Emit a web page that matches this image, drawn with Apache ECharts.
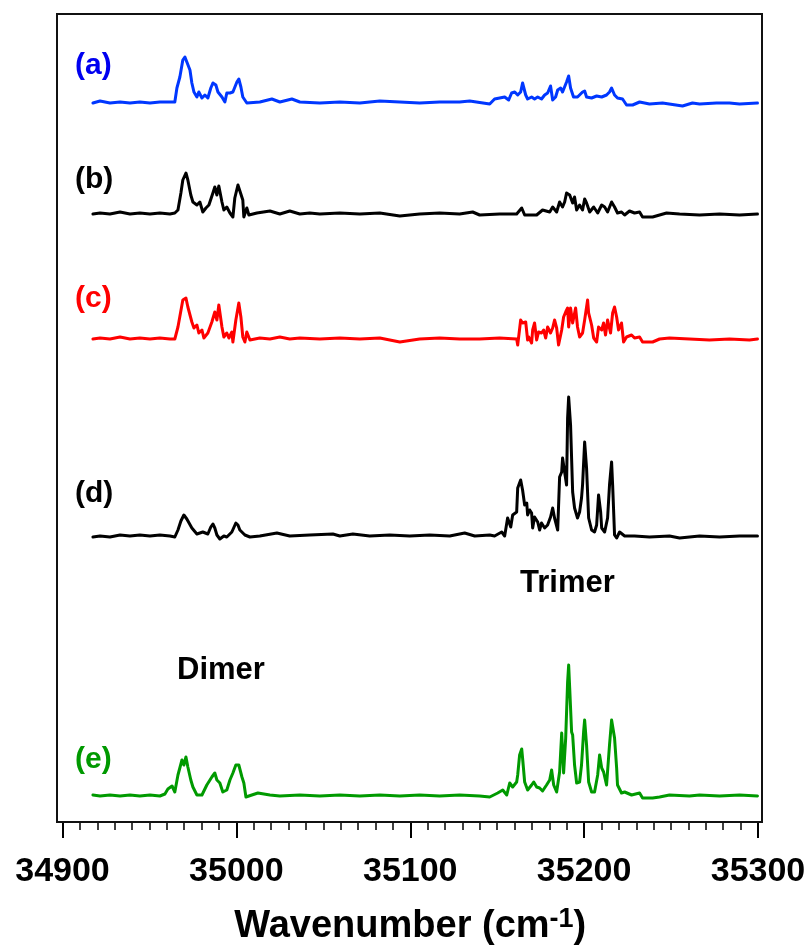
<!DOCTYPE html>
<html><head><meta charset="utf-8">
<script src="https://cdn.jsdelivr.net/npm/echarts@6/dist/echarts.min.js"></script>
<style>html,body{margin:0;padding:0;background:#fff}#c{width:808px;height:948px}</style>
</head><body><div id="c"></div>
<script>
// Wavenumber (cm-1), relative intensity above each trace's own baseline
const specA = [[34917.5,0],[34921.6,2],[34927.3,0],[34933.1,1],[34938.8,0],[34944.5,1],[34950.3,0],[34956.0,1],[34961.8,1],[34964.6,1],[34965.8,15],[34967.5,26],[34969.2,43],[34970.4,46],[34971.5,44],[34973.3,33],[34974.4,20],[34975.6,11],[34977.3,6],[34978.4,11],[34980.2,5],[34981.9,8],[34983.6,5],[34985.3,15],[34986.5,20],[34988.2,18],[34989.4,11],[34991.7,6],[34993.4,1],[34994.5,10],[34996.3,10],[34998.0,11],[35000.3,21],[35001.4,24],[35002.6,16],[35003.7,6],[35006.0,0],[35013.5,1],[35020.4,4],[35025.0,1],[35031.9,4],[35036.5,1],[35048.0,0],[35059.5,1],[35071.0,0],[35082.5,2],[35094.0,1],[35105.4,0],[35116.9,1],[35128.4,1],[35134.2,2],[35145.7,-1],[35148.5,4],[35151.4,5],[35154.3,6],[35156.6,3],[35158.3,10],[35160.1,11],[35161.8,8],[35163.5,11],[35164.6,20],[35166.4,8],[35167.5,4],[35169.8,6],[35171.5,4],[35173.3,6],[35175.5,4],[35177.3,8],[35179.0,10],[35180.7,17],[35181.9,3],[35183.6,6],[35184.8,13],[35186.5,15],[35187.6,11],[35189.9,21],[35191.1,27],[35192.2,15],[35193.9,6],[35196.2,6],[35199.1,11],[35200.3,12],[35201.4,6],[35204.3,5],[35207.2,7],[35210.1,6],[35212.9,8],[35214.6,11],[35215.8,15],[35217.5,8],[35219.2,5],[35222.1,4],[35224.4,-2],[35227.9,-2],[35231.9,1],[35237.6,-1],[35245.1,0],[35256.6,-3],[35262.3,0],[35266.4,-1],[35276.1,0],[35283.6,0],[35289.4,-1],[35299.7,0]];

const specB = [[34917.5,0],[34921.6,1],[34927.3,0],[34933.1,2],[34938.8,0],[34944.5,1],[34950.3,0],[34956.0,1],[34961.8,0],[34964.6,1],[34966.4,4],[34968.1,21],[34969.2,34],[34971.0,41],[34972.1,34],[34973.8,19],[34975.0,12],[34976.1,14],[34977.3,9],[34979.0,12],[34980.7,2],[34982.5,6],[34984.2,9],[34986.5,21],[34987.6,27],[34988.8,19],[34989.9,28],[34991.7,12],[34992.8,4],[34994.5,7],[34996.3,1],[34998.0,-3],[34999.1,16],[35000.9,29],[35002.0,31],[35003.7,14],[35004.3,-3],[35006.0,6],[35007.2,-1],[35011.8,1],[35019.3,3],[35025.0,0],[35030.7,3],[35036.5,0],[35042.2,1],[35048.0,0],[35059.5,1],[35071.0,0],[35082.5,1],[35094.0,-2],[35105.4,0],[35116.9,1],[35128.4,0],[35135.9,2],[35139.9,-1],[35151.4,0],[35161.2,0],[35164.1,6],[35165.8,-1],[35172.7,-1],[35176.1,4],[35180.2,2],[35181.9,7],[35184.2,2],[35185.9,12],[35187.6,7],[35188.8,12],[35189.9,21],[35191.7,19],[35193.4,11],[35194.5,17],[35195.7,4],[35197.4,9],[35199.1,4],[35200.3,15],[35201.4,11],[35203.2,2],[35205.5,7],[35207.8,1],[35210.1,9],[35211.8,7],[35213.5,2],[35215.8,12],[35217.5,7],[35219.2,1],[35221.5,2],[35223.3,-1],[35226.1,3],[35229.0,1],[35231.9,2],[35233.6,-3],[35239.4,-3],[35243.4,-1],[35247.4,1],[35254.9,0],[35266.4,-1],[35277.9,0],[35289.4,-1],[35299.7,0]];

const specC = [[34917.5,0],[34921.6,1],[34927.3,0],[34933.1,2],[34938.8,0],[34944.5,1],[34950.3,0],[34956.0,1],[34961.8,0],[34964.6,0],[34966.4,12],[34969.2,39],[34971.0,41],[34972.1,32],[34974.4,17],[34975.6,11],[34977.3,14],[34978.4,6],[34980.2,9],[34981.3,1],[34983.6,6],[34985.9,17],[34987.6,27],[34988.8,19],[34989.9,34],[34991.7,12],[34992.8,2],[34994.5,6],[34995.7,1],[34997.4,7],[34998.0,-3],[34999.7,19],[35001.4,36],[35002.6,22],[35003.7,2],[35004.9,-3],[35006.0,7],[35007.8,-1],[35013.5,1],[35019.3,0],[35025.0,2],[35030.7,0],[35036.5,1],[35048.0,0],[35059.5,1],[35071.0,0],[35082.5,1],[35094.0,-3],[35105.4,0],[35116.9,1],[35128.4,0],[35139.9,0],[35151.4,1],[35161.2,0],[35161.8,-6],[35163.5,19],[35164.6,16],[35166.4,17],[35167.5,-1],[35168.1,2],[35169.8,-4],[35170.4,9],[35171.5,16],[35172.7,-1],[35173.8,7],[35175.5,6],[35176.7,9],[35177.9,1],[35179.0,12],[35180.7,6],[35181.9,11],[35183.0,19],[35184.2,11],[35185.3,-6],[35187.1,9],[35188.2,22],[35189.4,27],[35190.5,31],[35191.1,12],[35192.2,31],[35193.4,16],[35195.1,31],[35196.2,12],[35197.4,2],[35199.1,6],[35200.3,19],[35202.0,39],[35202.6,26],[35204.3,14],[35205.5,1],[35207.2,-3],[35208.3,12],[35210.1,9],[35211.2,16],[35212.3,4],[35213.5,19],[35215.2,6],[35216.4,26],[35217.5,32],[35218.7,22],[35219.8,9],[35221.5,16],[35222.7,-3],[35224.4,2],[35227.3,4],[35229.0,1],[35231.9,2],[35233.6,-3],[35239.4,-3],[35243.4,0],[35249.1,1],[35260.6,0],[35272.1,-1],[35283.6,0],[35295.1,-1],[35299.7,0]];

const specD = [[34917.5,-1],[34921.6,0],[34927.3,-1],[34933.1,1],[34938.8,0],[34944.5,1],[34950.3,0],[34956.0,1],[34961.8,0],[34964.6,-1],[34966.4,6],[34968.1,15],[34969.8,21],[34971.5,17],[34974.4,8],[34977.3,2],[34980.7,4],[34983.6,2],[34985.3,9],[34986.5,12],[34987.6,8],[34988.8,1],[34990.5,-3],[34992.8,0],[34994.5,-1],[34997.4,4],[34999.7,13],[35000.9,11],[35002.0,6],[35004.9,1],[35007.8,-1],[35013.5,0],[35023.3,3],[35030.7,0],[35042.2,1],[35055.5,2],[35059.5,0],[35067.0,2],[35076.7,0],[35088.2,1],[35099.7,0],[35111.2,1],[35122.7,0],[35131.3,3],[35137.1,0],[35145.7,1],[35148.5,0],[35152.6,4],[35154.3,0],[35156.0,18],[35157.8,9],[35158.9,21],[35161.2,24],[35161.8,48],[35163.5,56],[35164.6,46],[35165.8,31],[35167.0,33],[35167.5,21],[35168.7,26],[35169.8,23],[35170.4,8],[35171.5,19],[35173.3,14],[35174.4,6],[35175.5,13],[35177.3,8],[35179.0,11],[35180.7,19],[35181.9,28],[35183.0,18],[35184.8,6],[35185.9,59],[35187.1,64],[35187.6,78],[35188.8,64],[35189.9,51],[35190.5,118],[35191.1,139],[35192.2,111],[35193.4,44],[35194.5,28],[35196.2,18],[35197.4,24],[35198.5,38],[35199.1,51],[35200.3,94],[35201.4,68],[35202.6,18],[35204.3,6],[35206.0,4],[35207.2,11],[35208.3,41],[35209.5,24],[35210.1,8],[35211.8,4],[35213.5,18],[35214.6,51],[35215.8,74],[35216.4,51],[35217.5,1],[35218.7,-2],[35220.4,4],[35223.3,0],[35229.0,0],[35237.6,-1],[35249.1,0],[35254.9,-2],[35266.4,0],[35277.9,-1],[35289.4,0],[35299.7,0]];

const specE = [[34917.5,1],[34921.6,0],[34927.3,1],[34933.1,0],[34938.8,1],[34944.5,0],[34950.3,1],[34956.0,0],[34958.9,2],[34960.6,7],[34963.0,10],[34964.6,4],[34966.4,21],[34968.7,36],[34969.8,31],[34971.0,39],[34972.1,29],[34973.8,16],[34975.0,9],[34977.3,1],[34980.2,1],[34983.0,11],[34985.9,19],[34987.6,23],[34988.8,16],[34990.5,13],[34992.2,4],[34994.5,6],[34996.3,16],[34998.0,23],[34999.7,31],[35001.4,31],[35003.2,19],[35004.3,13],[35005.5,-1],[35008.9,1],[35012.4,3],[35019.3,1],[35025.0,0],[35036.5,1],[35048.0,0],[35059.5,1],[35071.0,0],[35082.5,1],[35094.0,0],[35105.4,1],[35116.9,0],[35128.4,1],[35139.9,0],[35145.7,-1],[35150.3,3],[35153.2,6],[35155.5,1],[35157.2,13],[35158.9,9],[35161.2,14],[35161.8,21],[35162.9,41],[35164.1,47],[35164.6,38],[35165.8,14],[35167.5,6],[35169.8,11],[35171.0,14],[35172.7,9],[35174.4,8],[35176.1,5],[35178.4,11],[35180.2,16],[35181.3,26],[35182.5,11],[35184.2,4],[35185.9,24],[35187.1,63],[35188.2,23],[35189.4,58],[35190.5,114],[35191.1,131],[35191.7,108],[35192.8,64],[35193.4,61],[35194.5,31],[35195.7,13],[35197.4,14],[35198.5,31],[35199.7,64],[35200.3,76],[35201.4,51],[35202.6,14],[35204.3,4],[35206.0,4],[35207.8,21],[35208.9,41],[35210.1,28],[35211.2,24],[35212.9,11],[35213.5,11],[35214.6,51],[35215.8,76],[35216.4,78],[35217.5,58],[35218.7,28],[35219.2,11],[35221.5,3],[35223.3,4],[35227.3,1],[35231.9,3],[35233.6,-2],[35239.4,-2],[35243.4,-1],[35249.1,1],[35260.6,0],[35266.4,1],[35277.9,0],[35289.4,1],[35299.7,0]];

const traceNames = ['(a)', '(b)', '(c)', '(d)', '(e)'];
const traceOffsets = [719, 608, 483, 286, 26];   // vertical stacking offset of each trace
const xTicks = [34900, 35000, 35100, 35200, 35300];
const bandNames = ['Dimer', 'Trimer'];

const lineColors = ['#0037ff', '#000000', '#ff0000', '#000000', '#009a00'];
const textColors = ['#0000f0', '#000000', '#ff0000', '#000000', '#009900'];
const FONT = '"Liberation Sans", Arial, Helvetica, sans-serif';

const specs = [specA, specB, specC, specD, specE];
const chart = echarts.init(document.getElementById('c'), null, {renderer: 'canvas'});

const series = specs.map((s, i) => ({
  name: traceNames[i],
  type: 'line',
  showSymbol: false,
  symbol: 'none',
  clip: false,
  lineStyle: {color: lineColors[i], width: 3, join: 'round', cap: 'round'},
  data: s.map(p => [p[0], p[1] + traceOffsets[i]])
}));

const labelY = [66, 180, 299, 494, 760];
const graphics = [
  {type: 'rect', shape: {x: 57, y: 14, width: 705, height: 808}, style: {fill: 'none', stroke: '#111', lineWidth: 2}, z: 10}
];
traceNames.forEach((t, i) => graphics.push({
  type: 'text', left: 75, top: labelY[i] - 15,
  style: {text: t, fill: textColors[i], font: 'bold 30px ' + FONT}
}));
graphics.push({type: 'text', left: 177, top: 655, style: {text: bandNames[0], fill: '#000', font: 'bold 31px ' + FONT}});
graphics.push({type: 'text', left: 520, top: 568, style: {text: bandNames[1], fill: '#000', font: 'bold 31px ' + FONT}});

chart.setOption({
  animation: false,
  backgroundColor: '#fff',
  grid: {left: 62.5, right: 50, top: 14, bottom: 126, containLabel: false, outerBoundsMode: 'none'},
  xAxis: {
    type: 'value',
    min: xTicks[0], max: xTicks[xTicks.length - 1], interval: 100,
    name: '{a|Wavenumber (cm}{s|-1}{a|)}',
    nameLocation: 'middle', nameGap: 84,
    nameTextStyle: {
      rich: {
        a: {fontFamily: FONT, fontWeight: 'bold', fontSize: 38, color: '#000', lineHeight: 40, verticalAlign: 'bottom'},
        s: {fontFamily: FONT, fontWeight: 'bold', fontSize: 27, color: '#000', lineHeight: 28, verticalAlign: 'top', padding: [0, 0, 30, 0]}
      }
    },
    axisLine: {show: false},
    axisTick: {show: true, inside: false, length: 16, lineStyle: {color: '#000', width: 2}},
    minorTick: {show: true, splitNumber: 10, length: 8, lineStyle: {color: '#000', width: 1.5}},
    splitLine: {show: false},
    minorSplitLine: {show: false},
    axisLabel: {fontFamily: FONT, fontWeight: 'bold', fontSize: 34, color: '#000', margin: 33,
                formatter: v => String(v)}
  },
  yAxis: {type: 'value', min: 0, max: 808, show: false},
  series: series,
  graphic: graphics
});
</script></body></html>
